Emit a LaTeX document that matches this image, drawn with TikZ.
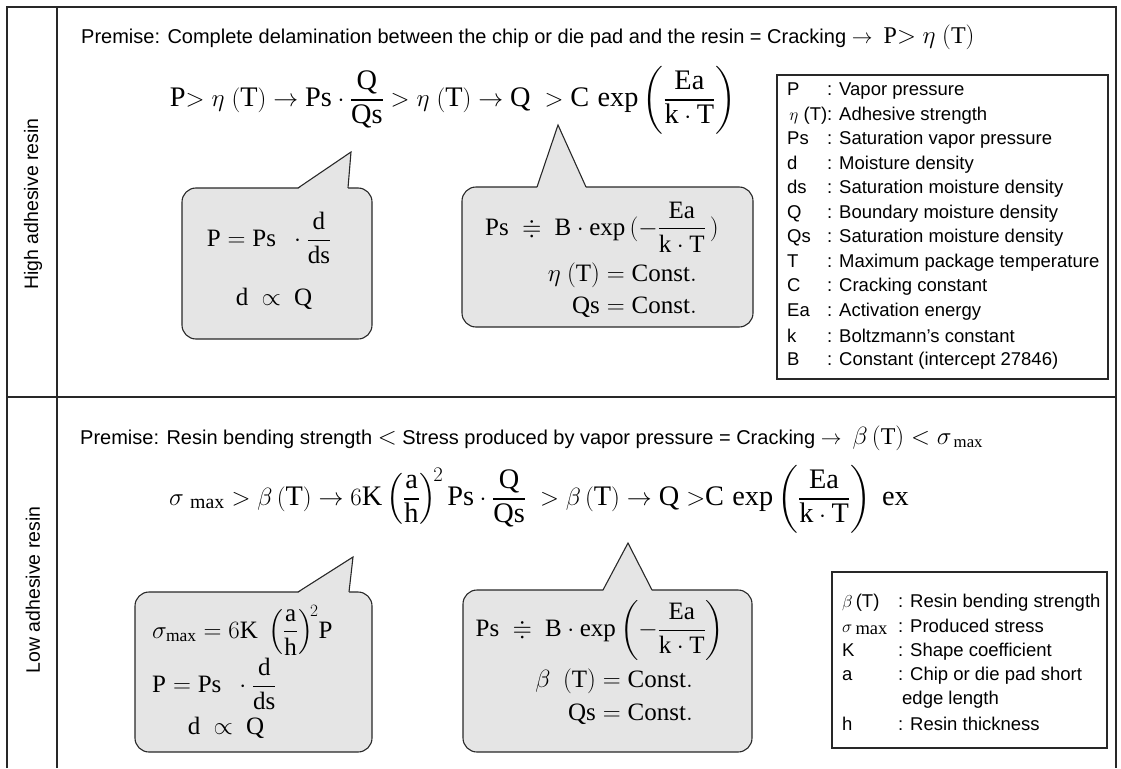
\documentclass[tikz,border=0pt]{standalone}
\usepackage{amsmath,amssymb}
\usepackage{fontspec}
\setmainfont{Liberation Serif}
\setsansfont{Liberation Sans}
\usepackage{tikz}
\usetikzlibrary{positioning}

\definecolor{bubblegray}{RGB}{229,229,229}
\definecolor{linegray}{RGB}{40,40,40}

\begin{document}
\begin{tikzpicture}[
    x=1pt, y=-1pt,
    frame/.style={draw=linegray, line width=1.3pt},
    premise/.style={anchor=west, inner sep=0pt, font=\sffamily\fontsize{20}{24}\selectfont},
    side/.style={rotate=90, inner sep=0pt, font=\sffamily\fontsize{19.5}{23}\selectfont},
    maineq/.style={inner sep=0pt, font=\fontsize{28.3}{32}\selectfont},
    bubble/.style={draw=linegray, line width=1.1pt, fill=bubblegray, rounded corners=14pt},
    tailfill/.style={fill=bubblegray},
    tailline/.style={draw=linegray, line width=1.1pt, line join=miter},
    bubeq/.style={inner sep=0pt, font=\fontsize{25}{29}\selectfont},
    legbox/.style={draw=linegray, line width=1.1pt},
    legtext/.style={anchor=west, inner sep=0pt, font=\sffamily\fontsize{18.5}{22}\selectfont}
]
\useasboundingbox (0,0) rectangle (1121,768);

% Table frame
\draw[frame] (7,768) -- (7,7) -- (1116,7) -- (1116,768);
\draw[frame] (57,7) -- (57,768);
\draw[frame] (7,397) -- (1116,397);

% Row labels
\node[side] (high) at (33,204) {High adhesive resin};
\node[side] (low) at (33,590) {Low adhesive resin};

% ---------------- High adhesive resin ----------------
\node[premise] (prem1) at (81,37) {Premise: Complete delamination between the chip or die pad and the resin = Cracking $\rightarrow$\ \ {\fontsize{24}{24}\selectfont$\mathrm{P}{>}\ \eta\ (\mathrm{T})$}};

\node[maineq] (eq1) at (453,100) {$\mathrm{P}{>}\ \eta\ (\mathrm{T}) \rightarrow \mathrm{Ps}\cdot\dfrac{\mathrm{Q}}{\mathrm{Qs}} > \eta\ (\mathrm{T}) \rightarrow \mathrm{Q}\ > \mathrm{C}\,\exp\left(\dfrac{\mathrm{Ea}}{\mathrm{k}\cdot\mathrm{T}}\right)$};

% Bubbles
\node[bubble, minimum width=190pt, minimum height=151pt] (b1) at (277,263.5) {};
\fill[tailfill] (298,189) -- (351,152) -- (348,189) -- cycle;
\draw[tailline] (298,188) -- (351,152) -- (348,188);
\node[bubeq] (b1r1) at (269,238) {$\mathrm{P} = \mathrm{Ps}\ \ \cdot\dfrac{\mathrm{d}}{\mathrm{ds}}$};
\node[bubeq] (b1r2) at (274,299) {$\mathrm{d}\ \propto\ \mathrm{Q}$};

\node[bubble, minimum width=291pt, minimum height=140pt] (b2) at (607.5,257) {};
\fill[tailfill] (537,188) -- (558,125) -- (586,188) -- cycle;
\draw[tailline] (537,187) -- (558,125) -- (586,187);
\node[bubeq] (b2r1) at (602,227) {$\mathrm{Ps}\ \doteqdot\ \mathrm{B}\cdot\exp\,(-\dfrac{\mathrm{Ea}}{\mathrm{k}\cdot\mathrm{T}}\,)$};
\node[bubeq, anchor=east] (b2r2) at (697,275) {$\eta\ (\mathrm{T}) = \mathrm{Const.}$};
\node[bubeq, anchor=east] (b2r3) at (697,307) {$\mathrm{Qs} = \mathrm{Const.}$};

% Legend
\node[legbox, minimum width=331pt, minimum height=304pt] (legA) at (942.5,227) {};
\foreach \s/\t [count=\i from 0] in {{\makebox[40pt][l]{P}}/Vapor pressure,
    {\makebox[40pt][r]{$\eta$\ (T)}}/Adhesive strength,
    {\makebox[40pt][l]{Ps}}/Saturation vapor pressure, {\makebox[40pt][l]{d}}/Moisture density,
    {\makebox[40pt][l]{ds}}/Saturation moisture density, {\makebox[40pt][l]{Q}}/Boundary moisture density,
    {\makebox[40pt][l]{Qs}}/Saturation moisture density, {\makebox[40pt][l]{T}}/Maximum package temperature,
    {\makebox[40pt][l]{C}}/Cracking constant, {\makebox[40pt][l]{Ea}}/Activation energy,
    {\makebox[40pt][l]{k}}/Boltzmann’s constant, {\makebox[40pt][l]{B}}/Constant (intercept 27846)}
    \node[legtext] (la\i) at (787,91+24.5*\i) {\s: \t};

% ---------------- Low adhesive resin ----------------
\node[premise] (prem2) at (80,438) {Premise: Resin bending strength {\fontsize{24}{24}\selectfont$<$} Stress produced by vapor pressure = Cracking $\rightarrow$\ \ {\fontsize{24}{24}\selectfont$\beta\,(\mathrm{T}) < \sigma_{\,\mathrm{max}}$}};

\node[maineq] (eq2) at (539,499) {$\sigma_{\ \mathrm{max}} > \beta\,(\mathrm{T}) \rightarrow 6\mathrm{K}\left(\dfrac{\mathrm{a}}{\mathrm{h}}\right)^{\!2}\mathrm{Ps}\cdot\dfrac{\mathrm{Q}}{\mathrm{Qs}}\ > \beta\,(\mathrm{T}) \rightarrow \mathrm{Q}\ {>}\mathrm{C}\,\exp\left(\dfrac{\mathrm{Ea}}{\mathrm{k}\cdot\mathrm{T}}\right)\ \mathrm{ex}$};

% Bubbles
\node[bubble, minimum width=237pt, minimum height=160pt] (b3) at (253.5,672) {};
\fill[tailfill] (298,593) -- (353,557) -- (349,593) -- cycle;
\draw[tailline] (298,592) -- (353,557) -- (349,592);
\node[bubeq, anchor=west] (b3r1) at (152,630) {$\sigma_{\mathrm{max}} = 6\mathrm{K}\ \left(\dfrac{\mathrm{a}}{\mathrm{h}}\right)^{\!2}\!\mathrm{P}$};
\node[bubeq, anchor=west] (b3r2) at (152,684) {$\mathrm{P} = \mathrm{Ps}\ \ \cdot\dfrac{\mathrm{d}}{\mathrm{ds}}$};
\node[bubeq] (b3r3) at (226,728) {$\mathrm{d}\ \propto\ \mathrm{Q}$};

\node[bubble, minimum width=289pt, minimum height=162pt] (b4) at (607.5,671) {};
\fill[tailfill] (603,591) -- (628,543) -- (652,591) -- cycle;
\draw[tailline] (603,590) -- (628,543) -- (652,590);
\node[bubeq] (b4r1) at (600,630) {$\mathrm{Ps}\ \doteqdot\ \mathrm{B}\cdot\exp\left(-\dfrac{\mathrm{Ea}}{\mathrm{k}\cdot\mathrm{T}}\right)$};
\node[bubeq, anchor=east] (b4r2) at (693,681) {$\beta\ \ (\mathrm{T}) = \mathrm{Const.}$};
\node[bubeq, anchor=east] (b4r3) at (693,714) {$\mathrm{Qs} = \mathrm{Const.}$};

% Legend
\node[legbox, minimum width=275pt, minimum height=176pt] (legB) at (969.5,660) {};
\foreach \s/\t [count=\i from 0] in {{$\beta$\,(T)}/{: Resin bending strength},
    {$\sigma$\,\raisebox{-2pt}{\rmfamily max}}/{: Produced stress}, K/{: Shape coefficient},
    a/{: Chip or die pad short}, {}/{\hspace*{4pt}edge length}, h/{: Resin thickness}}
    \node[legtext] (lb\i) at (842,603+24.2*\i) {\makebox[56pt][l]{\s}\t};

\end{tikzpicture}
\end{document}
